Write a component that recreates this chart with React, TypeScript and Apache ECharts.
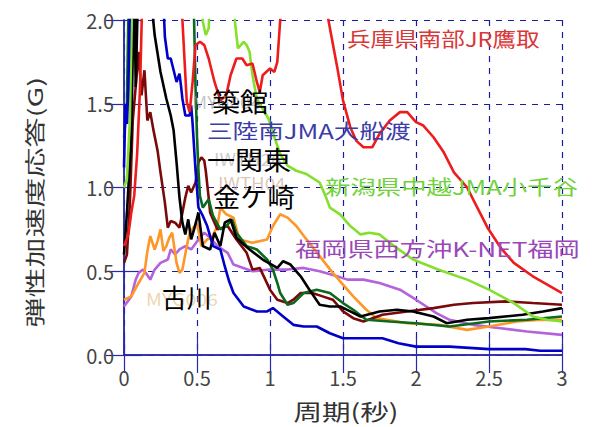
import React, { useEffect, useRef } from "react";
import * as echarts from "echarts";

// [period (s), elastic acceleration response (G)]
const hyogoTakatori: number[][] = [
  [0, 0.65], [0.03, 0.72], [0.05, 0.85], [0.07, 0.95], [0.09, 1.2], [0.11, 1.6], [0.13, 2.3],
  [0.38, 2.4], [0.4, 2.0], [0.43, 1.51], [0.45, 1.45], [0.47, 1.63], [0.49, 1.85], [0.52, 1.87],
  [0.55, 1.85], [0.58, 1.77], [0.62, 1.63], [0.66, 1.52], [0.7, 1.55], [0.73, 1.67], [0.77, 1.77],
  [0.81, 1.77], [0.84, 1.73], [0.88, 1.74], [0.91, 1.63], [0.93, 1.57], [0.95, 1.67], [1.0, 1.71],
  [1.03, 1.69], [1.05, 1.75], [1.07, 2.0], [1.09, 2.4], [1.38, 2.4], [1.4, 2.0], [1.46, 1.72],
  [1.5, 1.52], [1.55, 1.36], [1.59, 1.28], [1.64, 1.24], [1.7, 1.24], [1.75, 1.32], [1.82, 1.4],
  [1.89, 1.45], [1.94, 1.45], [2.0, 1.39], [2.05, 1.37], [2.12, 1.3], [2.19, 1.21], [2.26, 1.09],
  [2.35, 1.0], [2.42, 0.88], [2.49, 0.76], [2.58, 0.64], [2.67, 0.55], [2.8, 0.47], [2.92, 0.41],
  [3.0, 0.37],
];

const niigataOjiya: number[][] = [
  [0, 1.0], [0.02, 1.05], [0.04, 1.4], [0.06, 2.3], [0.52, 2.3], [0.54, 1.99], [0.56, 1.91],
  [0.58, 1.95], [0.6, 2.3], [0.74, 2.3], [0.76, 1.99], [0.78, 1.83], [0.82, 1.87], [0.84, 1.85],
  [0.86, 1.81], [0.88, 1.67], [0.91, 1.53], [0.95, 1.47], [0.99, 1.41], [1.03, 1.3], [1.07, 1.2],
  [1.12, 1.13], [1.18, 1.1], [1.25, 1.08], [1.34, 1.03], [1.38, 0.95], [1.41, 0.88], [1.48, 0.84],
  [1.55, 0.77], [1.62, 0.72], [1.68, 0.73], [1.75, 0.72], [1.85, 0.65], [1.98, 0.57], [2.15, 0.51],
  [2.35, 0.45], [2.5, 0.39], [2.67, 0.31], [2.8, 0.23], [2.9, 0.21], [3.0, 0.2],
];

const sanrikuOfunato: number[][] = [
  [0, 1.12], [0.01, 1.5], [0.02, 1.38], [0.03, 1.6], [0.045, 2.3], [0.26, 2.3], [0.28, 1.9],
  [0.3, 1.77], [0.32, 1.77], [0.34, 1.7], [0.36, 1.63], [0.38, 1.68], [0.39, 1.61], [0.4, 1.53],
  [0.42, 1.43], [0.45, 1.43], [0.46, 1.49], [0.47, 1.38], [0.49, 1.1], [0.51, 0.88], [0.54, 0.83],
  [0.57, 0.77], [0.61, 0.65], [0.66, 0.63], [0.69, 0.53], [0.72, 0.44], [0.75, 0.37], [0.82, 0.29],
  [0.91, 0.26], [0.98, 0.26], [1.02, 0.28], [1.09, 0.23], [1.16, 0.18], [1.23, 0.17], [1.32, 0.17],
  [1.41, 0.13], [1.5, 0.1], [1.77, 0.1], [1.88, 0.07], [2.0, 0.05], [2.23, 0.05], [2.5, 0.035],
  [2.75, 0.035], [2.85, 0.025], [3.0, 0.025],
];

const tsukidate: number[][] = [
  [0, 0.6], [0.02, 0.85], [0.03, 1.0], [0.05, 1.3], [0.07, 2.3], [0.08, 1.6], [0.1, 2.3],
  [0.18, 2.3], [0.2, 2.0], [0.21, 1.91], [0.25, 1.69], [0.29, 1.53], [0.32, 1.43], [0.34, 1.34],
  [0.36, 1.15], [0.38, 0.94], [0.4, 0.79], [0.42, 0.72], [0.44, 0.81], [0.46, 0.69], [0.48, 0.75],
  [0.51, 0.85], [0.54, 0.65], [0.59, 0.63], [0.62, 0.73], [0.66, 0.65], [0.69, 0.79], [0.73, 0.81],
  [0.77, 0.7], [0.82, 0.66], [0.86, 0.63], [0.95, 0.57], [1.05, 0.52], [1.09, 0.56], [1.14, 0.54],
  [1.21, 0.47], [1.27, 0.39], [1.34, 0.3], [1.41, 0.29], [1.48, 0.29], [1.55, 0.26], [1.62, 0.23],
  [1.75, 0.26], [1.87, 0.27], [1.98, 0.26], [2.12, 0.23], [2.21, 0.19], [2.35, 0.21], [2.5, 0.22],
  [2.73, 0.24], [2.87, 0.26], [3.0, 0.28],
];

const ichinosekiHigashi: number[][] = [
  [0, 1.3], [0.02, 1.5], [0.035, 2.3], [0.46, 2.3], [0.48, 2.0], [0.49, 1.6], [0.5, 1.3],
  [0.51, 1.1], [0.52, 0.95], [0.54, 0.88], [0.58, 0.93], [0.61, 0.83], [0.66, 0.75], [0.7, 0.77],
  [0.74, 0.81], [0.77, 0.73], [0.84, 0.65], [0.91, 0.63], [0.98, 0.57], [1.02, 0.51], [1.05, 0.43],
  [1.07, 0.37], [1.12, 0.3], [1.16, 0.31], [1.23, 0.37], [1.32, 0.39], [1.41, 0.37], [1.5, 0.31],
  [1.57, 0.27], [1.66, 0.21], [1.82, 0.2], [2.0, 0.19], [2.23, 0.17], [2.5, 0.2], [2.76, 0.21],
  [3.0, 0.23],
];

const kanegasaki: number[][] = [
  [0, 0.55], [0.02, 0.6], [0.04, 0.9], [0.06, 1.4], [0.08, 1.6], [0.1, 1.81], [0.12, 1.55],
  [0.14, 1.7], [0.16, 1.4], [0.18, 1.45], [0.2, 1.35], [0.23, 1.22], [0.25, 1.09], [0.28, 0.91],
  [0.3, 0.76], [0.32, 0.8], [0.35, 0.79], [0.38, 0.76], [0.42, 0.94], [0.44, 1.01], [0.46, 0.97],
  [0.49, 1.03], [0.51, 1.15], [0.53, 1.18], [0.55, 1.16], [0.56, 1.1], [0.58, 0.94], [0.59, 0.85],
  [0.64, 0.75], [0.71, 0.77], [0.77, 0.69], [0.84, 0.61], [0.88, 0.51], [0.93, 0.52], [1.0, 0.39],
  [1.05, 0.33], [1.12, 0.31], [1.16, 0.33], [1.21, 0.37], [1.29, 0.37], [1.36, 0.35], [1.43, 0.33],
  [1.5, 0.26], [1.57, 0.22], [1.64, 0.2], [1.77, 0.24], [1.94, 0.26], [2.12, 0.28], [2.26, 0.3],
  [2.39, 0.31], [2.62, 0.32], [2.8, 0.31], [3.0, 0.3],
];

const furukawa: number[][] = [
  [0, 0.33], [0.05, 0.35], [0.1, 0.43], [0.14, 0.49], [0.16, 0.62], [0.18, 0.71], [0.21, 0.63],
  [0.23, 0.68], [0.25, 0.75], [0.27, 0.62], [0.29, 0.65], [0.31, 0.7], [0.33, 0.73], [0.36, 0.55],
  [0.38, 0.49], [0.4, 0.51], [0.43, 0.65], [0.45, 0.73], [0.5, 0.79], [0.53, 0.65], [0.57, 0.69],
  [0.6, 0.7], [0.64, 0.77], [0.66, 0.88], [0.7, 0.84], [0.75, 0.82], [0.79, 0.69], [0.88, 0.67],
  [0.98, 0.69], [1.02, 0.77], [1.07, 0.84], [1.12, 0.82], [1.18, 0.77], [1.25, 0.69], [1.34, 0.59],
  [1.43, 0.49], [1.5, 0.42], [1.57, 0.35], [1.66, 0.27], [1.73, 0.22], [1.94, 0.19], [2.16, 0.18],
  [2.35, 0.15], [2.5, 0.17], [2.69, 0.2], [2.85, 0.21], [3.0, 0.21],
];

const fukuokaKnet: number[][] = [
  [0, 0.29], [0.05, 0.35], [0.08, 0.45], [0.1, 0.49], [0.13, 0.51], [0.15, 0.49], [0.18, 0.45],
  [0.21, 0.51], [0.25, 0.55], [0.3, 0.57], [0.32, 0.63], [0.35, 0.6], [0.38, 0.63], [0.42, 0.65],
  [0.46, 0.63], [0.51, 0.69], [0.55, 0.73], [0.59, 0.7], [0.64, 0.65], [0.71, 0.61], [0.75, 0.54],
  [0.88, 0.5], [1.0, 0.51], [1.12, 0.51], [1.23, 0.52], [1.34, 0.5], [1.46, 0.47], [1.53, 0.45],
  [1.64, 0.45], [1.75, 0.43], [1.89, 0.39], [2.0, 0.33], [2.14, 0.25], [2.23, 0.21], [2.39, 0.18],
  [2.58, 0.16], [2.76, 0.14], [3.0, 0.12],
];

const X_MIN = 0, X_MAX = 3, X_STEP = 0.5;
const Y_MIN = 0, Y_MAX = 2, Y_STEP = 0.5;

const seriesDefs = [
  { name: "福岡県西方沖K-NET福岡", data: fukuokaKnet, color: "#b562dd" },
  { name: "古川", data: furukawa, color: "#ff9628" },
  { name: "金ケ崎", data: kanegasaki, color: "#7a0a0a" },
  { name: "一関東", data: ichinosekiHigashi, color: "#0b6a1c" },
  { name: "築館", data: tsukidate, color: "#000000" },
  { name: "新潟県中越JMA小千谷", data: niigataOjiya, color: "#84e02c" },
  { name: "三陸南JMA大船渡", data: sanrikuOfunato, color: "#0000c8" },
  { name: "兵庫県南部JR鷹取", data: hyogoTakatori, color: "#ee1c1c" },
];

const FONT = '"Noto Sans CJK JP", "Noto Sans", sans-serif';

function txt(text: string, x: number, y: number, size: number, fill: string, scaleX = 1) {
  return {
    type: "text",
    x,
    y,
    scaleX,
    z: 100,
    style: {
      text,
      fill,
      font: `${size}px ${FONT}`,
      textAlign: "left",
      textVerticalAlign: "middle",
    },
  };
}

export default function App() {
  const ref = useRef<HTMLDivElement>(null);
  useEffect(() => {
    if (!ref.current) return;
    document.body.style.margin = "0";
    const chart = echarts.init(ref.current, null, { renderer: "svg" });
    const axisColor = "#2828a8";
    const tickStyle = { show: true, inside: true, length: 18, lineStyle: { color: axisColor, width: 1.2 } };
    const gridLine = { show: true, lineStyle: { color: "#1c1ca0", type: [6, 6], width: 1.2 } };
    const labelStyle = { color: "#444", fontSize: 20, fontFamily: FONT };
    chart.setOption({
      animation: false,
      backgroundColor: "#ffffff",
      grid: { left: 124, right: 38, top: 20, bottom: 72 },
      xAxis: [
        {
          type: "value", min: X_MIN, max: X_MAX, interval: X_STEP, position: "bottom",
          axisLine: { show: true, lineStyle: { color: axisColor, width: 1.5 } },
          axisTick: tickStyle, splitLine: gridLine,
          axisLabel: { ...labelStyle, margin: 12 },
        },
        {
          type: "value", min: X_MIN, max: X_MAX, interval: X_STEP, position: "top",
          axisLine: { show: true, lineStyle: { color: axisColor, width: 1.5 } },
          axisTick: tickStyle, splitLine: { show: false }, axisLabel: { show: false },
        },
      ],
      yAxis: [
        {
          type: "value", min: Y_MIN, max: Y_MAX, interval: Y_STEP, position: "left",
          axisLine: { show: true, lineStyle: { color: axisColor, width: 1.5 } },
          axisTick: tickStyle, splitLine: gridLine,
          axisLabel: { ...labelStyle, margin: 10, formatter: (v: number) => v.toFixed(1) },
        },
        {
          type: "value", min: Y_MIN, max: Y_MAX, interval: Y_STEP, position: "right",
          axisLine: { show: true, lineStyle: { color: axisColor, width: 1.5 } },
          axisTick: tickStyle, splitLine: { show: false }, axisLabel: { show: false },
        },
      ],
      series: seriesDefs.map((s) => ({
        type: "line",
        name: s.name,
        data: s.data,
        xAxisIndex: 0,
        yAxisIndex: 0,
        showSymbol: false,
        symbol: "none",
        clip: true,
        lineStyle: { color: s.color, width: 2.6 },
        itemStyle: { color: s.color },
      })),
      graphic: [
        // faint station codes
        txt("MYG004", 192, 101, 17, "rgba(150,150,150,0.55)", 1.1),
        txt("IWTH26", 214, 158, 17, "rgba(150,150,150,0.5)", 1.1),
        txt("IWTH04", 218, 182, 17, "rgba(190,150,120,0.55)", 1.1),
        txt("MYG006", 146, 299, 17, "rgba(225,185,120,0.6)", 1.15),
        // region labels
        txt("兵庫県南部JR鷹取", 347, 38, 20, "#d83838", 1.18),
        txt("三陸南JMA大船渡", 207, 130, 20, "#3c3ca8", 1.28),
        txt("新潟県中越JMA小千谷", 325, 186, 20, "#72d23e", 1.27),
        txt("福岡県西方沖K-NET福岡", 295, 248, 20, "#9a48b8", 1.31),
        // station labels
        txt("築館", 212, 101, 26, "#000000", 1.08),
        txt("一関東", 207, 159, 26, "#000000", 1.08),
        txt("金ケ崎", 213, 196, 26, "#000000", 1.05),
        txt("古川", 162, 297, 26, "#000000", 0.95),
        // axis titles
        {
          type: "text", x: 346, y: 410, scaleX: 1.3, z: 100,
          style: { text: "周期(秒)", fill: "#333", font: `22px ${FONT}`, textAlign: "center", textVerticalAlign: "middle" },
        },
        {
          type: "text", x: 34, y: 202, rotation: Math.PI / 2, scaleX: 1.5, z: 100,
          style: { text: "弾性加速度応答(G)", fill: "#333", font: `20px ${FONT}`, textAlign: "center", textVerticalAlign: "middle" },
        },
      ],
    });
    return () => chart.dispose();
  }, []);
  return <div ref={ref} style={{ width: 600, height: 427 }} />;
}
